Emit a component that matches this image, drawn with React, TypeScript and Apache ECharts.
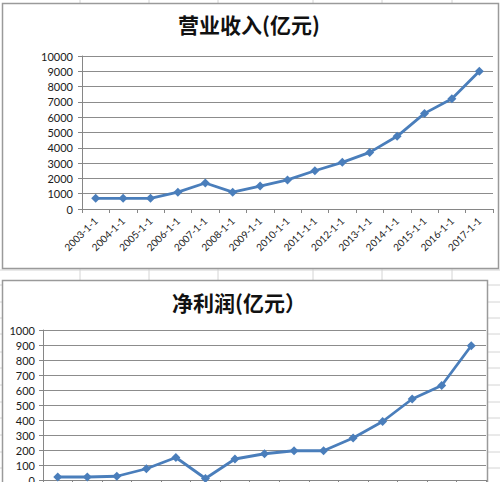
import React, { useEffect, useRef } from 'react';
import * as echarts from 'echarts';

const years = [
  '2003-1-1', '2004-1-1', '2005-1-1', '2006-1-1', '2007-1-1',
  '2008-1-1', '2009-1-1', '2010-1-1', '2011-1-1', '2012-1-1',
  '2013-1-1', '2014-1-1', '2015-1-1', '2016-1-1', '2017-1-1',
];

// 营业收入 (亿元)
const revenue = [700, 700, 700, 1100, 1700, 1100, 1500, 1900, 2500, 3050, 3700, 4750, 6250, 7200, 9000];

// 净利润 (亿元)
const profit = [20, 20, 25, 75, 150, 10, 140, 175, 195, 195, 280, 390, 540, 630, 895];

const titles = ['营业收入(亿元)', '净利润(亿元）'];

// spreadsheet cell lines behind the charts
const sheetCols = [80, 149, 218, 313, 382, 452];
const sheetRows = [270, 285, 302, 318, 334, 352, 368, 385, 402, 418, 435, 452, 468];

const BLUE = '#4a7ebb';
const GRID_GRAY = '#8c8c8c';
const FONT = 'Lato, "Noto Sans", sans-serif';

export default function App() {
  const ref = useRef<HTMLDivElement>(null);

  useEffect(() => {
    if (!ref.current) return;
    const chart = echarts.init(ref.current, null, { renderer: 'svg' });

    const sheetLines: any[] = [
      ...sheetCols.map((x) => ({
        type: 'line',
        z: -3,
        shape: { x1: x, y1: 0, x2: x, y2: 482 },
        style: { stroke: '#d4d4d4', lineWidth: 1 },
      })),
      ...sheetRows.map((y) => ({
        type: 'line',
        z: -3,
        shape: { x1: 0, y1: y, x2: 500, y2: y },
        style: { stroke: '#d4d4d4', lineWidth: 1 },
      })),
    ];

    const yAxisCommon = {
      type: 'value',
      axisLine: { show: true, lineStyle: { color: '#868686', width: 1 } },
      axisTick: { show: true, length: 4, lineStyle: { color: '#868686' } },
      splitLine: { show: true, lineStyle: { color: GRID_GRAY, width: 1 } },
      axisLabel: {
        color: '#1a1a1a',
        fontSize: 11,
        fontFamily: FONT,
        formatter: (v: number) => String(v),
      },
    };

    const xAxisCommon = {
      type: 'category',
      data: years,
      boundaryGap: true,
      axisLine: { show: true, lineStyle: { color: '#868686', width: 1 } },
      axisTick: { show: true, length: 4, alignWithLabel: false, lineStyle: { color: '#868686' } },
      axisLabel: {
        rotate: 45,
        interval: 0,
        color: '#1a1a1a',
        fontSize: 10,
        fontFamily: FONT,
        margin: 10,
      },
    };

    const lineCommon = {
      type: 'line',
      symbol: 'diamond',
      symbolSize: 9,
      lineStyle: { color: BLUE, width: 2.8 },
      itemStyle: { color: BLUE },
    };

    const titleStyle = { fontSize: 21, fontWeight: 'bold', color: '#111', fontFamily: '"Noto Sans CJK SC"' };

    chart.setOption({
      animation: false,
      backgroundColor: '#ffffff',
      title: [
        { text: titles[0], left: 178, top: 13, padding: 0, textStyle: titleStyle },
        { text: titles[1], left: 172, top: 291, padding: 0, textStyle: titleStyle },
      ],
      grid: [
        { left: 82, right: 7, top: 56, bottom: 273, outerBoundsMode: 'none', containLabel: false },
        { left: 43, right: 14, top: 330, bottom: 2, outerBoundsMode: 'none', containLabel: false },
      ],
      xAxis: [
        { ...xAxisCommon, gridIndex: 0 },
        // the lower chart's category labels fall below the visible area
        { ...xAxisCommon, gridIndex: 1, axisLabel: { ...xAxisCommon.axisLabel, show: false } },
      ],
      yAxis: [
        { ...yAxisCommon, gridIndex: 0, min: 0, max: 10000, interval: 1000, axisLabel: { ...yAxisCommon.axisLabel, margin: 9 } },
        { ...yAxisCommon, gridIndex: 1, min: 0, max: 1000, interval: 100, axisLabel: { ...yAxisCommon.axisLabel, margin: 8 } },
      ],
      graphic: [
        ...sheetLines,
        {
          type: 'rect',
          z: -2,
          shape: { x: 2.5, y: 3.5, width: 496, height: 265 },
          style: { fill: '#ffffff', stroke: '#9a9a9a', lineWidth: 1.5 },
        },
        {
          type: 'rect',
          z: -2,
          shape: { x: 2.5, y: 280.5, width: 485, height: 215 },
          style: { fill: '#ffffff', stroke: '#9a9a9a', lineWidth: 1.5 },
        },
      ],
      series: [
        { ...lineCommon, name: titles[0], xAxisIndex: 0, yAxisIndex: 0, data: revenue },
        { ...lineCommon, name: titles[1], xAxisIndex: 1, yAxisIndex: 1, data: profit },
      ],
    });

    return () => {
      chart.dispose();
    };
  }, []);

  return (
    <div
      ref={ref}
      style={{ position: 'absolute', left: 0, top: 0, width: '500px', height: '482px' }}
    />
  );
}
